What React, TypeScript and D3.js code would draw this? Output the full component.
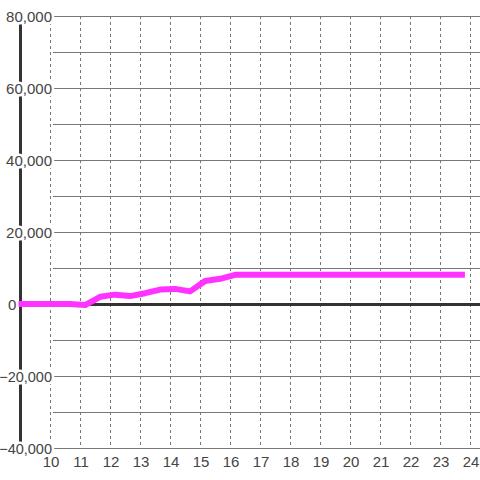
import React from "react";
import * as d3 from "d3";

const times = [8.95, 9.67, 10.17, 10.67, 11.17, 11.67, 12.17, 12.67, 13.17, 13.67, 14.17, 14.67, 15.17, 15.67, 16.17, 16.67, 17.17, 17.67, 18.17, 18.67, 19.17, 19.67, 20.17, 20.67, 21.17, 21.67, 22.17, 22.67, 23.17, 23.83];
const values = [0, 0, 0, 0, -300, 2000, 2600, 2200, 3000, 4000, 4200, 3500, 6400, 7000, 8100, 8100, 8100, 8100, 8100, 8100, 8100, 8100, 8100, 8100, 8100, 8100, 8100, 8100, 8100, 8100];
const xTicks = [10, 11, 12, 13, 14, 15, 16, 17, 18, 19, 20, 21, 22, 23, 24];
const yTicks = [80000, 60000, 40000, 20000, 0, -20000, -40000];
const yGrid = [80000, 70000, 60000, 50000, 40000, 30000, 20000, 10000, 0, -10000, -20000, -30000, -40000];

export default function App() {
  const W = 480, H = 480;
  const x = d3.scaleLinear().domain([10, 24]).range([50, 470]);
  const y = d3.scaleLinear().domain([-40000, 80000]).range([448, 16]);
  const fmt = d3.format(",");
  const pts = times.map((t, i) => [t, values[i]] as [number, number]);
  const line = d3.line<[number, number]>().x(d => x(d[0])).y(d => y(d[1]));
  const axisX = 20.5;
  const font = "Liberation Sans, Arial, sans-serif";
  return (
    <svg width={W} height={H} style={{ position: "absolute", left: 0, top: 0, background: "#fff" }}>
      <rect x={0} y={0} width={W} height={H} fill="#fff" />
      {xTicks.map(t => (
        <line key={"vx" + t} x1={x(t) + 0.5} x2={x(t) + 0.5} y1={y(80000)} y2={y(-40000)} stroke="#777" strokeWidth={1} strokeDasharray="3,3" />
      ))}
      {yGrid.filter(v => v !== 0).map(v => (
        <line key={"hy" + v} x1={53} x2={480} y1={y(v) + 0.5} y2={y(v) + 0.5} stroke="#777" strokeWidth={1} />
      ))}
      <line x1={axisX} x2={480} y1={y(0) + 0.5} y2={y(0) + 0.5} stroke="#333" strokeWidth={3} />
      <line x1={axisX} x2={axisX} y1={y(80000)} y2={y(-40000)} stroke="#333" strokeWidth={3} />
      <path d={line(pts) || ""} fill="none" stroke="#ff33ff" strokeWidth={6} strokeLinejoin="round" />
      {yTicks.map(v => (
        v === 0 ? (
          <text key={"yl" + v} x={8} y={y(v) + 6} textAnchor="start" fontFamily={font} fontSize={15} fill="#444">{fmt(v)}</text>
        ) : (
          <text key={"yl" + v} x={52} y={y(v) + 6} textAnchor="end" fontFamily={font} fontSize={v < 0 ? 14.5 : 15} fill="#444" stroke="#fff" strokeWidth={5} paintOrder="stroke" strokeLinejoin="round">{fmt(v)}</text>
        )
      ))}
      {xTicks.map(t => (
        <text key={"xl" + t} x={x(t) + 1} y={467} textAnchor="middle" fontFamily={font} fontSize={15} fill="#444">{t}</text>
      ))}
    </svg>
  );
}
